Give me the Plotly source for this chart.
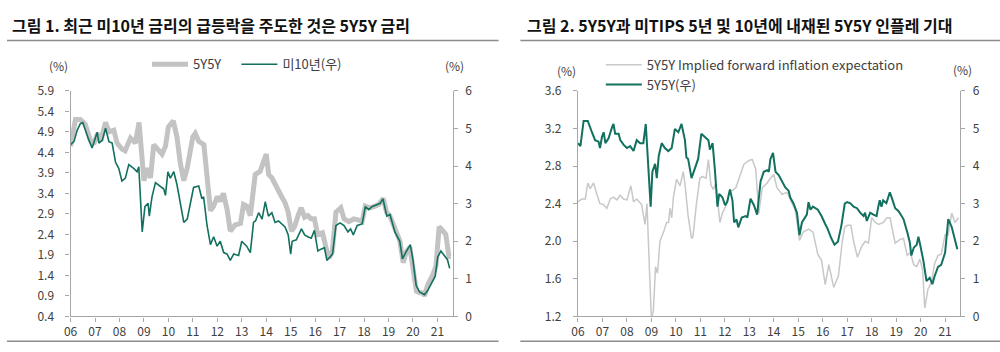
import plotly.graph_objects as go

# ---------------- data ----------------
tick_years = list(range(2006, 2022))
tick_labels = ["06", "07", "08", "09", "10", "11", "12", "13", "14", "15", "16", "17", "18", "19", "20", "21"]

# Chart 1: 5Y5Y (left axis, %)
c1_5y5y_t = [2006.0, 2006.2, 2006.4, 2006.6, 2006.8, 2006.95, 2007.1, 2007.23, 2007.43, 2007.57, 2007.77, 2007.9,
             2008.1, 2008.23, 2008.45, 2008.65, 2008.8, 2008.9, 2009.0, 2009.13, 2009.27, 2009.4, 2009.6, 2009.74,
             2009.88, 2010.0, 2010.2, 2010.35, 2010.49, 2010.63, 2010.77, 2011.0, 2011.1, 2011.24, 2011.45, 2011.6,
             2011.72, 2011.85, 2012.0, 2012.12, 2012.25, 2012.4, 2012.53, 2012.73, 2012.95, 2013.07, 2013.2, 2013.35,
             2013.48, 2013.55, 2013.75, 2013.9, 2014.0, 2014.1, 2014.23, 2014.36, 2014.5, 2014.63, 2014.77, 2014.9,
             2015.03, 2015.16, 2015.3, 2015.43, 2015.57, 2015.7, 2015.83, 2015.97, 2016.1, 2016.3, 2016.44, 2016.57,
             2016.7, 2016.85, 2017.05, 2017.18, 2017.38, 2017.58, 2017.78, 2017.92, 2018.05, 2018.25, 2018.45, 2018.6,
             2018.78, 2018.92, 2019.05, 2019.25, 2019.46, 2019.6, 2019.73, 2019.87, 2020.0, 2020.14, 2020.27, 2020.4,
             2020.47, 2020.6, 2020.8, 2020.94, 2021.07, 2021.2, 2021.34, 2021.47, 2021.55]
c1_5y5y = [4.55, 5.2, 5.2, 5.09, 4.71, 4.6, 4.86, 4.67, 5.13, 4.9, 4.94, 4.63,
           4.48, 4.44, 4.75, 4.63, 5.13, 4.25, 3.71, 4.02, 3.78, 4.59, 4.44, 4.36,
           4.55, 5.02, 5.17, 4.78, 4.13, 3.71, 4.02, 4.78, 4.86, 4.67, 4.59, 3.71,
           2.98, 3.09, 3.32, 3.21, 3.4, 3.01, 2.48, 2.63, 2.67, 3.13, 3.09, 2.86,
           3.63, 3.86, 3.94, 4.25, 4.36, 3.86, 3.78, 3.63, 3.44, 3.32, 3.17, 2.94,
           2.48, 2.59, 2.86, 3.05, 2.82, 2.86, 2.78, 2.78, 2.4, 2.44, 2.09, 1.82,
           1.98, 2.94, 3.05, 2.78, 2.71, 2.78, 2.75, 2.71, 3.09, 3.05, 3.09, 3.13,
           3.28, 2.94, 2.86, 2.55, 2.25, 1.71, 1.98, 2.09, 1.59, 1.02, 0.98, 0.98,
           0.9, 1.17, 1.4, 1.63, 2.59, 2.48, 2.4, 1.86, 1.86]

# Chart 1: US 10Y (right axis, %)
c1_ust10_t = [2006.0, 2006.14, 2006.27, 2006.4, 2006.5, 2006.6, 2006.75, 2006.88, 2007.02, 2007.09, 2007.16, 2007.3,
              2007.43, 2007.57, 2007.7, 2007.84, 2007.97, 2008.1, 2008.24, 2008.38, 2008.58, 2008.72, 2008.79, 2008.93,
              2009.04, 2009.17, 2009.22, 2009.33, 2009.47, 2009.67, 2009.81, 2009.88, 2009.98, 2010.08, 2010.22, 2010.35,
              2010.49, 2010.63, 2010.77, 2010.9, 2011.03, 2011.24, 2011.37, 2011.44, 2011.58, 2011.72, 2011.85, 2011.99,
              2012.12, 2012.26, 2012.4, 2012.53, 2012.67, 2012.87, 2013.0, 2013.2, 2013.35, 2013.48, 2013.56, 2013.69,
              2013.83, 2013.96, 2014.09, 2014.23, 2014.36, 2014.5, 2014.63, 2014.77, 2014.9, 2015.0, 2015.06, 2015.23,
              2015.44, 2015.57, 2015.7, 2015.84, 2015.97, 2016.11, 2016.24, 2016.38, 2016.48, 2016.62, 2016.71, 2016.85,
              2017.02, 2017.18, 2017.34, 2017.45, 2017.56, 2017.72, 2017.92, 2018.05, 2018.19, 2018.32, 2018.52, 2018.66,
              2018.77, 2018.93, 2019.06, 2019.26, 2019.46, 2019.57, 2019.7, 2019.89, 2020.0, 2020.13, 2020.27, 2020.47,
              2020.6, 2020.74, 2020.91, 2021.01, 2021.14, 2021.28, 2021.41, 2021.5]
c1_ust10 = [4.57, 4.65, 4.95, 5.13, 5.16, 4.95, 4.69, 4.48, 4.78, 4.9, 4.61, 4.69,
            5.01, 4.65, 4.61, 4.1, 3.94, 3.6, 3.68, 4.04, 3.94, 3.85, 3.98, 2.25,
            2.92, 3.01, 2.67, 3.18, 3.56, 3.47, 3.39, 3.22, 3.85, 3.68, 3.85, 3.51,
            2.97, 2.5, 2.59, 3.01, 3.43, 3.47, 3.13, 3.18, 2.42, 1.91, 2.12, 1.87,
            2.0, 1.7, 1.66, 1.49, 1.66, 1.62, 2.0, 1.87, 1.7, 2.5, 2.54, 2.76,
            2.59, 3.05, 2.67, 2.76, 2.5, 2.54, 2.46, 2.38, 2.17, 1.66, 2.0, 2.04,
            2.33, 2.17, 2.12, 2.08, 2.29, 1.74, 1.79, 1.83, 1.49, 1.58, 1.66, 2.42,
            2.49, 2.42, 2.25, 2.33, 2.17, 2.42, 2.46, 2.92, 2.84, 2.92, 2.97, 3.01,
            3.13, 2.67, 2.71, 2.25, 2.0, 1.53, 1.7, 1.91, 1.49, 0.82, 0.65, 0.58,
            0.69, 0.86, 1.07, 1.58, 1.74, 1.62, 1.51, 1.28]

# Chart 2: 5Y5Y implied forward inflation expectation (left axis, %)
c2_bei_t = [2006.0, 2006.16, 2006.3, 2006.4, 2006.5, 2006.64, 2006.77, 2006.9, 2007.04, 2007.18, 2007.32, 2007.45,
            2007.59, 2007.72, 2007.86, 2008.0, 2008.16, 2008.27, 2008.4, 2008.6, 2008.74, 2008.82, 2008.92, 2009.0,
            2009.08, 2009.17, 2009.25, 2009.35, 2009.5, 2009.62, 2009.7, 2009.76, 2009.83, 2009.9, 2010.03, 2010.17,
            2010.3, 2010.37, 2010.5, 2010.64, 2010.7, 2010.84, 2010.98, 2011.09, 2011.23, 2011.33, 2011.43, 2011.53,
            2011.63, 2011.8, 2011.9, 2012.05, 2012.2, 2012.31, 2012.45, 2012.65, 2012.78, 2012.99, 2013.12, 2013.26,
            2013.39, 2013.53, 2013.73, 2013.86, 2014.0, 2014.13, 2014.34, 2014.54, 2014.67, 2014.88, 2015.05, 2015.21,
            2015.42, 2015.6, 2015.8, 2015.95, 2016.1, 2016.25, 2016.45, 2016.64, 2016.8, 2016.9, 2017.0, 2017.15,
            2017.26, 2017.42, 2017.6, 2017.74, 2017.87, 2018.0, 2018.15, 2018.28, 2018.48, 2018.62, 2018.75, 2018.96,
            2019.16, 2019.3, 2019.45, 2019.58, 2019.72, 2019.84, 2019.97, 2020.08, 2020.17, 2020.3, 2020.44, 2020.57,
            2020.71, 2020.84, 2021.0, 2021.13, 2021.27, 2021.4, 2021.55]
c2_bei = [2.42, 2.45, 2.45, 2.62, 2.56, 2.62, 2.5, 2.4, 2.39, 2.35, 2.45, 2.47,
          2.44, 2.49, 2.45, 2.44, 2.59, 2.42, 2.45, 2.39, 2.18, 2.4, 1.7, 1.18,
          1.26, 1.73, 1.66, 2.0, 2.1, 2.2, 2.2, 2.35, 2.25, 2.47, 2.66, 2.59,
          2.74, 2.61, 2.27, 2.03, 2.05, 2.4, 2.67, 2.69, 2.67, 2.87, 2.6, 2.55,
          2.62, 2.2, 2.3, 2.38, 2.54, 2.54, 2.57, 2.71, 2.82, 2.86, 2.87, 2.77,
          2.3, 2.57, 2.62, 2.67, 2.71, 2.57, 2.5, 2.52, 2.45, 2.33, 2.01, 2.1,
          2.13, 2.1, 1.86, 1.8, 1.54, 1.75, 1.51, 1.63, 2.0, 2.15, 2.17, 2.17,
          2.0, 1.83, 1.95, 2.0, 1.98, 2.25, 2.2, 2.18, 2.2, 2.25, 2.25, 1.98,
          2.02, 2.03, 1.85, 1.88, 1.75, 1.73, 1.81, 1.7, 1.29, 1.49, 1.56, 1.76,
          1.85, 1.86, 2.07, 2.07, 2.3, 2.2, 2.25]

# Chart 2: 5Y5Y (right axis, %)
c2_5y5y_t = [2006.0, 2006.1, 2006.23, 2006.4, 2006.57, 2006.7, 2006.84, 2006.9, 2006.98, 2007.05, 2007.12, 2007.25,
             2007.39, 2007.45, 2007.52, 2007.66, 2007.73, 2007.86, 2008.0, 2008.13, 2008.27, 2008.4, 2008.54, 2008.67,
             2008.77, 2008.88, 2008.97, 2009.04, 2009.15, 2009.22, 2009.3, 2009.42, 2009.55, 2009.69, 2009.83, 2009.96,
             2010.1, 2010.23, 2010.37, 2010.43, 2010.5, 2010.64, 2010.77, 2010.91, 2011.04, 2011.23, 2011.33, 2011.39,
             2011.5, 2011.6, 2011.7, 2011.77, 2011.9, 2012.01, 2012.1, 2012.21, 2012.31, 2012.38, 2012.48, 2012.55,
             2012.69, 2012.85, 2012.92, 2013.05, 2013.19, 2013.32, 2013.46, 2013.59, 2013.73, 2013.8, 2013.86, 2013.97,
             2014.07, 2014.2, 2014.34, 2014.47, 2014.61, 2014.67, 2014.81, 2014.95, 2015.05, 2015.15, 2015.35, 2015.42,
             2015.5, 2015.6, 2015.8, 2015.95, 2016.1, 2016.2, 2016.35, 2016.48, 2016.62, 2016.76, 2016.9, 2017.0,
             2017.13, 2017.26, 2017.4, 2017.53, 2017.67, 2017.73, 2017.8, 2017.94, 2018.07, 2018.2, 2018.27, 2018.33,
             2018.4, 2018.47, 2018.6, 2018.74, 2018.81, 2018.96, 2019.1, 2019.23, 2019.3, 2019.45, 2019.56, 2019.62,
             2019.72, 2019.84, 2019.91, 2019.98, 2020.11, 2020.24, 2020.37, 2020.48, 2020.57, 2020.71, 2020.84, 2021.0,
             2021.13, 2021.27, 2021.4, 2021.5]
c2_5y5y = [4.61, 4.53, 5.2, 5.2, 4.9, 4.69, 4.65, 4.48, 4.78, 4.9, 4.61, 4.74,
           5.03, 5.12, 4.86, 4.86, 4.69, 4.57, 4.48, 4.53, 4.4, 4.69, 4.61, 4.61,
           5.12, 3.85, 2.92, 3.85, 4.06, 3.68, 4.27, 4.61, 4.48, 4.4, 4.48, 4.99,
           4.9, 5.12, 4.69, 4.23, 4.19, 3.68, 3.94, 4.19, 4.86, 4.73, 4.69, 4.44,
           4.61, 3.85, 2.92, 3.26, 3.17, 2.96, 3.05, 3.38, 3.09, 2.5, 2.58, 2.37,
           2.63, 2.67, 2.63, 3.13, 2.96, 2.71, 3.59, 3.85, 3.89, 3.85, 4.18, 4.35,
           3.85, 3.76, 3.59, 3.43, 3.34, 3.17, 3.0, 2.75, 2.16, 2.5, 2.71, 3.04,
           2.84, 2.92, 2.84, 2.67, 2.46, 2.33, 2.08, 1.91, 1.99, 2.41, 3.0, 3.04,
           3.01, 2.92, 2.88, 2.76, 2.67, 2.76, 2.54, 2.76, 2.71, 2.67, 2.92, 3.09,
           2.92, 3.09, 3.01, 3.3, 3.18, 2.88, 2.8, 2.67, 2.59, 2.25, 1.96, 1.62,
           1.83, 1.91, 2.12, 1.91, 1.49, 0.94, 1.03, 0.86, 1.07, 1.32, 1.37, 1.7,
           2.59, 2.38, 2.0, 1.79]

# ---------------- style ----------------
GREEN = "#12705F"
GRAY_THICK = "#C3C3C3"
GRAY_THIN = "#C8C8C8"
AXIS = "#A6A6A6"
TXT = "#404040"
FONT = "Noto Sans CJK KR, Noto Sans, sans-serif"

W, H = 1000, 352
def px_x(x):
    return x / W
def px_y(y):
    return 1 - y / H

fig = go.Figure()
fig.add_trace(go.Scatter(x=c1_5y5y_t, y=c1_5y5y, mode="lines", name="5Y5Y",
                         line=dict(color=GRAY_THICK, width=5), xaxis="x", yaxis="y", legend="legend"))
fig.add_trace(go.Scatter(x=c1_ust10_t, y=c1_ust10, mode="lines", name="미10년(우)",
                         line=dict(color=GREEN, width=1.6), xaxis="x", yaxis="y2", legend="legend3"))
fig.add_trace(go.Scatter(x=c2_bei_t, y=c2_bei, mode="lines", name="5Y5Y Implied forward inflation expectation",
                         line=dict(color=GRAY_THIN, width=1.5), xaxis="x2", yaxis="y3", legend="legend2"))
fig.add_trace(go.Scatter(x=c2_5y5y_t, y=c2_5y5y, mode="lines", name="5Y5Y(우)",
                         line=dict(color=GREEN, width=2), xaxis="x2", yaxis="y4", legend="legend2"))

ydom = [px_y(322), px_y(85)]
common = dict(showline=True, linecolor=AXIS, linewidth=1.2, ticks="outside", ticklen=4, tickcolor=AXIS,
              tickwidth=1, showgrid=False, zeroline=False, tickfont=dict(family=FONT, size=12, color=TXT))
xcommon = dict(common, tickmode="array", tickvals=tick_years, ticktext=tick_labels)
legfont = dict(family=FONT, size=13, color=TXT)

fig.update_layout(
    width=W, height=H, autosize=False,
    margin=dict(l=0, r=0, t=0, b=0),
    paper_bgcolor="white", plot_bgcolor="white",
    font=dict(family=FONT, color=TXT),
    xaxis=dict(xcommon, domain=[px_x(64), px_x(449)], range=[2006.0, 2021.63], anchor="y"),
    yaxis=dict(common, domain=ydom, range=[0.4, 5.9], dtick=0.5, tick0=0.4, tickformat=".1f", anchor="x",
               ticklabelstandoff=9),
    yaxis2=dict(common, domain=ydom, range=[0, 6], dtick=1, overlaying="y", side="right", anchor="x",
                ticklabelstandoff=5),
    xaxis2=dict(xcommon, domain=[px_x(575), px_x(960)], range=[2006.0, 2021.62], anchor="y3"),
    yaxis3=dict(common, domain=ydom, range=[1.2, 3.6], dtick=0.4, tick0=1.2, tickformat=".1f", anchor="x2",
                ticklabelstandoff=9),
    yaxis4=dict(common, domain=ydom, range=[0, 6], dtick=1, overlaying="y3", side="right", anchor="x2",
                ticklabelstandoff=5),
    legend=dict(orientation="h", x=px_x(141), y=px_y(57), xanchor="left", yanchor="middle",
                font=legfont, bgcolor="rgba(0,0,0,0)", itemwidth=36),
    legend3=dict(orientation="h", x=px_x(231), y=px_y(57), xanchor="left", yanchor="middle",
                 font=legfont, bgcolor="rgba(0,0,0,0)", itemwidth=36),
    legend2=dict(orientation="v", x=px_x(598), y=px_y(68), xanchor="left", yanchor="middle",
                 font=legfont, bgcolor="rgba(0,0,0,0)", tracegroupgap=0, itemwidth=36),
    showlegend=True,
)

# titles, unit labels, rules
annos = [
    dict(text="<b>그림 1. 최근 미10년 금리의 급등락을 주도한 것은 5Y5Y 금리</b>", x=px_x(3), y=px_y(16),
         xanchor="left", yanchor="middle", font=dict(size=16, color="#111111")),
    dict(text="<b>그림 2. 5Y5Y과 미TIPS 5년 및 10년에 내재된 5Y5Y 인플레 기대</b>", x=px_x(522), y=px_y(16),
         xanchor="left", yanchor="middle", font=dict(size=16, color="#111111")),
    dict(text="(%)", x=px_x(52), y=px_y(58), xanchor="center", yanchor="middle", font=dict(size=12, color=TXT)),
    dict(text="(%)", x=px_x(451), y=px_y(58), xanchor="center", yanchor="middle", font=dict(size=12, color=TXT)),
    dict(text="(%)", x=px_x(563), y=px_y(64), xanchor="center", yanchor="middle", font=dict(size=12, color=TXT)),
    dict(text="(%)", x=px_x(962), y=px_y(63), xanchor="center", yanchor="middle", font=dict(size=12, color=TXT)),
]
for a in annos:
    a.update(xref="paper", yref="paper", showarrow=False, font=dict(a["font"], family=FONT))
fig.update_layout(annotations=annos)

rules = [(0, 495, 32), (517, 1000, 32), (0, 495, 348), (517, 1000, 348)]
fig.update_layout(shapes=[dict(type="line", xref="paper", yref="paper", x0=px_x(a), x1=px_x(b), y0=px_y(y), y1=px_y(y),
                               line=dict(color="#8C8C8C", width=1.5)) for a, b, y in rules])

fig.write_html("out.html")
